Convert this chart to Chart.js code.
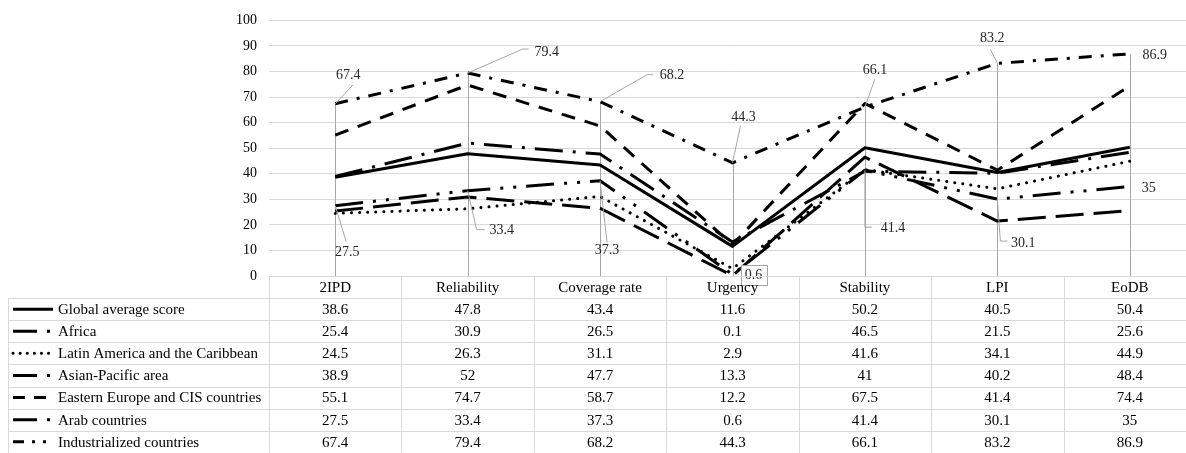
<!DOCTYPE html>
<html>
<head>
<meta charset="utf-8">
<script src="https://cdn.jsdelivr.net/npm/chart.js@4/dist/chart.umd.min.js"></script>
<style>
  html, body { margin: 0; padding: 0; background: #fff; overflow: hidden; }
  #wrap { width: 1196px; height: 453px; position: relative; }
</style>
</head>
<body>
<div id="wrap"><canvas id="chart"></canvas></div>
<script>
const categories = ['2IPD', 'Reliability', 'Coverage rate', 'Urgency', 'Stability', 'LPI', 'EoDB']
const seriesNames = [
  'Global average score',
  'Africa',
  'Latin America and the Caribbean',
  'Asian-Pacific area',
  'Eastern Europe and CIS countries',
  'Arab countries',
  'Industrialized countries',
]
const globalAverage = [38.6, 47.8, 43.4, 11.6, 50.2, 40.5, 50.4]
const africa = [25.4, 30.9, 26.5, 0.1, 46.5, 21.5, 25.6]
const latinAmerica = [24.5, 26.3, 31.1, 2.9, 41.6, 34.1, 44.9]
const asianPacific = [38.9, 52, 47.7, 13.3, 41, 40.2, 48.4]
const easternEurope = [55.1, 74.7, 58.7, 12.2, 67.5, 41.4, 74.4]
const arabCountries = [27.5, 33.4, 37.3, 0.6, 41.4, 30.1, 35]
const industrialized = [67.4, 79.4, 68.2, 44.3, 66.1, 83.2, 86.9]
const yMin = 0
const yMax = 100
const yStep = 10

const FONT = '"Liberation Serif", "Times New Roman", serif'
const GRID = '#d9d9d9'
const LEADER = '#a6a6a6'

// line styles, roughly Excel's dash types at 2.25pt (key = the short legend sample)
const styles = [
  { dash: [], key: [] },
  { dash: [28, 10], key: [24, 10, 3, 10] },
  { dash: [0.1, 8], key: [0.1, 7], cap: 'round' },
  { dash: [28, 10, 3, 10], key: [24, 10, 3, 10] },
  { dash: [14, 10], key: [12, 9, 12, 9] },
  { dash: [28, 10, 3, 10, 3, 10], key: [24, 10, 3, 10] },
  { dash: [13, 9, 3, 9], key: [11, 8, 3, 8, 3, 8] },
]

// where the data labels sit, relative to their point (label centre, leader path)
const topLabels = [
  { at: [13, -28], leader: [[0, 0], [18, -19]] },
  { at: [79, -21], leader: [[0, 0], [55, -24], [61, -24]] },
  { at: [72, -26], leader: [[0, 0], [47, -27], [53, -27]] },
  { at: [11, -45], leader: [[0, 0], [8, -37]] },
  { at: [10, -37], leader: [[0, 0], [10, -28]] },
  { at: [-5, -25], leader: [[0, 0], [-7, -14]] },
  { at: [25, 1] },
]
const bottomLabels = [
  { at: [12, 47], leader: [[0, 0], [11, 36]] },
  { at: [34, 40], leader: [[0, 0], [9, 39], [17, 39]] },
  { at: [7, 70], leader: [[0, 0], [7, 62]] },
  { at: [21, 1], box: true },
  { at: [28, 58], leader: [[0, 0], [0, 57], [7, 57]] },
  { at: [26, 44], leader: [[0, 0], [3, 42], [10, 42]] },
  { at: [19, 2] },
]

const allSeries = [globalAverage, africa, latinAmerica, asianPacific, easternEurope, arabCountries, industrialized]

const datasets = allSeries.map((values, i) => ({
  label: seriesNames[i],
  data: values,
  borderColor: '#000',
  borderWidth: 3,
  borderDash: styles[i].dash,
  borderCapStyle: styles[i].cap || 'butt',
  borderJoinStyle: 'round',
  pointRadius: 0,
  tension: 0,
  fill: false,
}))

const TABLE_TOP = 276
const ROW_H = 22.1
const TABLE_LEFT = 8

const dropLines = {
  id: 'dropLines',
  beforeDatasetsDraw(chart) {
    const { ctx, scales: { x, y } } = chart
    ctx.save()
    ctx.strokeStyle = LEADER
    ctx.lineWidth = 1
    categories.forEach((c, j) => {
      const top = Math.max(...allSeries.map((s) => s[j]))
      const px = Math.round(x.getPixelForValue(j)) + 0.5
      ctx.beginPath()
      ctx.moveTo(px, y.getPixelForValue(top))
      ctx.lineTo(px, y.getPixelForValue(0))
      ctx.stroke()
    })
    ctx.restore()
  },
}

function drawLabels(ctx, x, y, values, placements) {
  values.forEach((v, j) => {
    const p = placements[j]
    const px = x.getPixelForValue(j)
    const py = y.getPixelForValue(v)
    if (p.leader) {
      ctx.beginPath()
      p.leader.forEach(([dx, dy], k) => {
        if (k === 0) ctx.moveTo(px + dx, py + dy)
        else ctx.lineTo(px + dx, py + dy)
      })
      ctx.stroke()
    }
    const lx = px + p.at[0]
    const ly = py + p.at[1]
    if (p.box) {
      const w = ctx.measureText(String(v)).width + 8
      ctx.fillStyle = '#fff'
      ctx.fillRect(lx - w / 2, ly - 10, w, 20)
      ctx.strokeRect(Math.round(lx - w / 2) + 0.5, Math.round(ly - 10) + 0.5, Math.round(w), 20)
    }
    ctx.fillStyle = '#262626'
    ctx.fillText(String(v), lx, ly)
  })
}

const dataLabels = {
  id: 'dataLabels',
  afterDatasetsDraw(chart) {
    const { ctx, scales: { x, y } } = chart
    ctx.save()
    ctx.font = '14px ' + FONT
    ctx.textAlign = 'center'
    ctx.textBaseline = 'middle'
    ctx.strokeStyle = LEADER
    ctx.lineWidth = 1
    drawLabels(ctx, x, y, industrialized, topLabels)
    drawLabels(ctx, x, y, arabCountries, bottomLabels)
    ctx.restore()
  },
}

// Excel style data table under the plot, with the legend keys in the first column
const dataTable = {
  id: 'dataTable',
  afterDraw(chart) {
    const { ctx, chartArea, scales: { x } } = chart
    const left = chartArea.left
    const right = chartArea.right
    const colW = (right - left) / categories.length
    const headBottom = TABLE_TOP + ROW_H
    const bottom = headBottom + ROW_H * seriesNames.length
    ctx.save()
    ctx.strokeStyle = GRID
    ctx.lineWidth = 1
    ctx.beginPath()
    ctx.moveTo(left, TABLE_TOP + 0.5)
    ctx.lineTo(right, TABLE_TOP + 0.5)
    for (let r = 0; r <= seriesNames.length; r++) {
      const yy = Math.round(headBottom + r * ROW_H) + 0.5
      ctx.moveTo(TABLE_LEFT, yy)
      ctx.lineTo(right, yy)
    }
    for (let c = 0; c <= categories.length; c++) {
      const xx = Math.round(left + c * colW) + 0.5
      ctx.moveTo(xx, TABLE_TOP)
      ctx.lineTo(xx, bottom)
    }
    ctx.moveTo(TABLE_LEFT + 0.5, headBottom)
    ctx.lineTo(TABLE_LEFT + 0.5, bottom)
    ctx.stroke()

    ctx.font = '15px ' + FONT
    ctx.fillStyle = '#000'
    ctx.textBaseline = 'middle'
    ctx.textAlign = 'center'
    categories.forEach((c, j) => {
      ctx.fillText(c, x.getPixelForValue(j), TABLE_TOP + ROW_H / 2 + 1)
    })
    allSeries.forEach((values, i) => {
      const cy = headBottom + i * ROW_H + ROW_H / 2 + 1
      ctx.textAlign = 'center'
      values.forEach((v, j) => ctx.fillText(String(v), x.getPixelForValue(j), cy))
      // legend key
      ctx.save()
      ctx.strokeStyle = '#000'
      ctx.lineWidth = 3
      ctx.setLineDash(styles[i].key)
      ctx.lineCap = styles[i].cap || 'butt'
      ctx.beginPath()
      ctx.moveTo(TABLE_LEFT + 5, cy - 1)
      ctx.lineTo(TABLE_LEFT + 45, cy - 1)
      ctx.stroke()
      ctx.restore()
      ctx.textAlign = 'left'
      ctx.fillText(seriesNames[i], TABLE_LEFT + 50, cy)
    })
    ctx.restore()
  },
}

new Chart(document.getElementById('chart'), {
  type: 'line',
  data: { labels: categories, datasets: datasets },
  plugins: [dropLines, dataLabels, dataTable],
  options: {
    responsive: true,
    maintainAspectRatio: false,
    animation: false,
    layout: { padding: { top: 18, bottom: 453 - TABLE_TOP, left: 0, right: 0 } },
    plugins: { legend: { display: false }, tooltip: { enabled: false } },
    scales: {
      x: { type: 'category', offset: true, display: false },
      y: {
        min: yMin,
        max: yMax,
        ticks: { stepSize: yStep, padding: 12, color: '#000', font: { family: FONT, size: 14 } },
        grid: { color: GRID, drawTicks: false },
        border: { display: false },
        afterFit(scale) { scale.width = 269 },
      },
    },
  },
})
</script>
</body>
</html>
